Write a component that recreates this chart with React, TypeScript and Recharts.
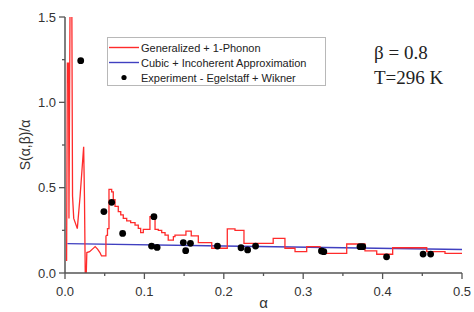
import { ComposedChart, Line, Scatter, XAxis, YAxis } from 'recharts';

// early, spiky part of the generalized + 1-phonon curve (drawn as straight segments)
const earlyAlpha = [0.002, 0.003, 0.0045, 0.005, 0.0065, 0.0085, 0.0095, 0.011, 0.0155, 0.019, 0.0235, 0.0245, 0.0255, 0.0268, 0.0275, 0.031, 0.0345, 0.038, 0.041, 0.044, 0.046, 0.0515, 0.0516];
const earlyS = [0.07, 1.23, 1.23, 0.32, 1.7, 1.7, 0.45, 0.32, 0.26, 0.45, 0.74, 0.45, 0.0, 0.0, 0.12, 0.125, 0.14, 0.155, 0.14, 0.12, 0.1, 0.1, 0.22];

// histogram part (left edge of each bin, value)
const binAlpha = [0.0516, 0.0535, 0.0554, 0.0588, 0.0608, 0.063, 0.0671, 0.0702, 0.0734, 0.0777, 0.0827, 0.0882, 0.0923, 0.0953, 0.0986, 0.107, 0.1134, 0.1175, 0.1218, 0.126, 0.13, 0.1365, 0.1385, 0.1523, 0.159, 0.1679, 0.1848, 0.2044, 0.2141, 0.2254, 0.2622, 0.277, 0.2897, 0.3044, 0.3212, 0.3548, 0.3778, 0.3926, 0.4127, 0.4556, 0.4786, 0.5];
const binS = [0.22, 0.26, 0.49, 0.475, 0.43, 0.39, 0.36, 0.34, 0.32, 0.306, 0.295, 0.28, 0.262, 0.236, 0.256, 0.33, 0.256, 0.25, 0.236, 0.222, 0.193, 0.213, 0.222, 0.245, 0.217, 0.178, 0.145, 0.258, 0.25, 0.174, 0.203, 0.145, 0.125, 0.154, 0.115, 0.17, 0.13, 0.11, 0.148, 0.125, 0.115, 0.115];

const cubicAlpha = [0.003, 0.2, 0.5];
const cubicS = [0.172, 0.158, 0.138];

const expAlpha = [0.0198, 0.049, 0.0588, 0.0726, 0.109, 0.112, 0.116, 0.149, 0.152, 0.158, 0.192, 0.2217, 0.23, 0.24, 0.323, 0.326, 0.3715, 0.375, 0.405, 0.451, 0.4605];
const expS = [1.244, 0.36, 0.414, 0.232, 0.158, 0.33, 0.15, 0.178, 0.131, 0.174, 0.158, 0.148, 0.135, 0.158, 0.129, 0.125, 0.154, 0.154, 0.095, 0.111, 0.111];

const xMajor = [0, 0.1, 0.2, 0.3, 0.4, 0.5];
const xTicks = [0, 0.05, 0.1, 0.15, 0.2, 0.25, 0.3, 0.35, 0.4, 0.45, 0.5];
const yMajor = [0, 0.5, 1.0, 1.5];
const yTicks = [0, 0.25, 0.5, 0.75, 1.0, 1.25, 1.5];

const earlyData = earlyAlpha.map((a, i) => ({ a, s: earlyS[i] }));
const binData = binAlpha.map((a, i) => ({ a, s: binS[i] }));
const cubicData = cubicAlpha.map((a, i) => ({ a, s: cubicS[i] }));
const expData = expAlpha.map((a, i) => ({ a, s: expS[i] }));

const RED = '#ff2b2b';
const BLUE = '#4040c0';
const AXIS = '#555';

function isMajor(v: number, majors: number[]) {
  return majors.some((m) => Math.abs(m - v) < 1e-6);
}

function Tick(props: any) {
  const { x, y, payload, side } = props;
  const v = payload.value;
  const major = isMajor(v, side === 'bottom' || side === 'top' ? xMajor : yMajor);
  const len = major ? 6 : 3;
  if (side === 'bottom') {
    return (
      <g>
        <line x1={x} y1={y} x2={x} y2={y + len} stroke={AXIS} strokeWidth={1.3} />
        {major && (
          <text x={x} y={y + 23} textAnchor="middle" fontSize={13} fill="#333" fontFamily="Liberation Sans, Arial, sans-serif">
            {v.toFixed(1)}
          </text>
        )}
      </g>
    );
  }
  if (side === 'left') {
    return (
      <g>
        <line x1={x} y1={y} x2={x - len} y2={y} stroke={AXIS} strokeWidth={1.3} />
        {major && (
          <text x={x - 9} y={y + 4.5} textAnchor="end" fontSize={13} fill="#333" fontFamily="Liberation Sans, Arial, sans-serif">
            {v.toFixed(1)}
          </text>
        )}
      </g>
    );
  }
  if (side === 'top') {
    return <line x1={x} y1={y} x2={x} y2={y + len} stroke={AXIS} strokeWidth={1.3} />;
  }
  return <line x1={x} y1={y} x2={x - len} y2={y} stroke={AXIS} strokeWidth={1.3} />;
}

function Dot(props: any) {
  const { cx, cy } = props;
  return <circle cx={cx} cy={cy} r={3.4} fill="#000" />;
}

export default function App() {
  return (
    <div style={{ position: 'absolute', left: 0, top: 0, width: 474, height: 312, background: '#fff', fontFamily: 'Liberation Sans, Arial, sans-serif' }}>
      <ComposedChart width={474} height={312} margin={{ top: 17, right: 12, left: 0, bottom: 0 }}>
        <XAxis
          xAxisId={0}
          dataKey="a"
          type="number"
          domain={[0, 0.5]}
          ticks={xTicks}
          interval={0}
          height={39}
          tickSize={0}
          tickMargin={0}
          tickLine={false}
          axisLine={{ stroke: AXIS, strokeWidth: 1.5 }}
          tick={(p: any) => <Tick {...p} side="bottom" />}
          label={{ value: 'α', position: 'insideBottom', offset: 4, fontSize: 15, fill: '#333' }}
        />
        <XAxis
          xAxisId="top"
          orientation="top"
          type="number"
          domain={[0, 0.5]}
          ticks={xTicks}
          interval={0}
          height={0}
          tickSize={0}
          tickMargin={0}
          tickLine={false}
          axisLine={{ stroke: AXIS, strokeWidth: 1.5 }}
          tick={(p: any) => <Tick {...p} side="top" />}
        />
        <YAxis
          yAxisId={0}
          type="number"
          domain={[0, 1.5]}
          allowDataOverflow
          ticks={yTicks}
          interval={0}
          width={65}
          tickSize={0}
          tickMargin={0}
          tickLine={false}
          axisLine={{ stroke: AXIS, strokeWidth: 1.5 }}
          tick={(p: any) => <Tick {...p} side="left" />}
          label={{ value: 'S(α,β)/α', angle: -90, position: 'insideLeft', offset: 25, fontSize: 14, fill: '#333', style: { textAnchor: 'middle' } }}
        />
        <YAxis
          yAxisId="right"
          orientation="right"
          type="number"
          domain={[0, 1.5]}
          ticks={yTicks}
          interval={0}
          width={0}
          tickSize={0}
          tickMargin={0}
          tickLine={false}
          axisLine={{ stroke: AXIS, strokeWidth: 1.5 }}
          tick={(p: any) => <Tick {...p} side="right" />}
        />
        <Line data={cubicData} dataKey="s" type="linear" stroke={BLUE} strokeWidth={1.4} dot={false} isAnimationActive={false} />
        <Line data={earlyData} dataKey="s" type="linear" stroke={RED} strokeWidth={1.3} dot={false} isAnimationActive={false} />
        <Line data={binData} dataKey="s" type="stepAfter" stroke={RED} strokeWidth={1.3} dot={false} isAnimationActive={false} />
        <Scatter data={expData} dataKey="s" fill="#000" shape={<Dot />} isAnimationActive={false} />
      </ComposedChart>

      <div style={{ position: 'absolute', left: 107, top: 37, width: 217, height: 47, border: '1px solid #b8b8b8', background: '#fff', fontSize: 11, color: '#222' }}>
        {[
          { name: 'Generalized + 1-Phonon', kind: 'line', color: RED },
          { name: 'Cubic + Incoherent Approximation', kind: 'line', color: BLUE },
          { name: 'Experiment - Egelstaff + Wikner', kind: 'dot', color: '#000' },
        ].map((item, i) => (
          <div key={i} style={{ position: 'absolute', left: 0, top: 2 + i * 15, height: 15, display: 'flex', alignItems: 'center', whiteSpace: 'nowrap' }}>
            <svg width={33} height={15}>
              {item.kind === 'line' ? (
                <line x1={1} y1={7.5} x2={31} y2={7.5} stroke={item.color} strokeWidth={1.4} />
              ) : (
                <circle cx={16} cy={7.5} r={2.6} fill="#000" />
              )}
            </svg>
            <span>{item.name}</span>
          </div>
        ))}
      </div>

      <div style={{ position: 'absolute', left: 374, top: 40, fontFamily: 'Liberation Serif, Times New Roman, serif', fontSize: 19, color: '#222', lineHeight: '25px' }}>
        <div>β = 0.8</div>
        <div>T=296 K</div>
      </div>
    </div>
  );
}
